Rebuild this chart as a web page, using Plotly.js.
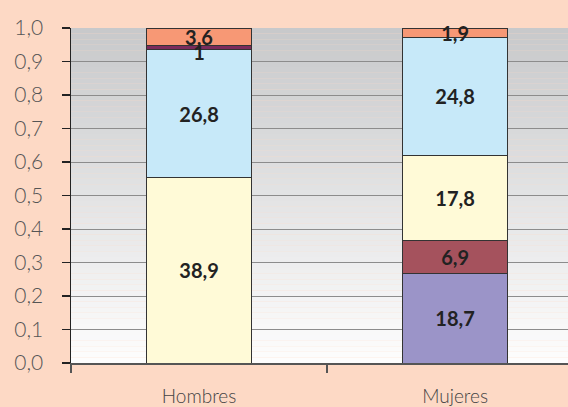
<!DOCTYPE html>
<html>
<head>
<meta charset="utf-8">
<script src="https://cdn.plot.ly/plotly-3.0.1.min.js"></script>
<style>html,body{margin:0;padding:0;background:#fdd9c5;}#chart{width:568px;height:407px;}</style>
</head>
<body>
<div id="chart"></div>
<script>
var categories = ['Hombres', 'Mujeres'];
var serieLavanda = [0, 18.7];
var serieGranate = [0, 6.9];
var serieAmarillo = [38.9, 17.8];
var serieAzul = [26.8, 24.8];
var seriePurpura = [1, 0];
var serieSalmon = [3.6, 1.9];
var yTicks = [0, 0.1, 0.2, 0.3, 0.4, 0.5, 0.6, 0.7, 0.8, 0.9, 1.0];

function lbl(arr) {
  return arr.map(function (v) { return v === 0 ? '' : String(v).replace('.', ','); });
}

var series = [
  {y: serieLavanda, color: '#9b94c8'},
  {y: serieGranate, color: '#a5525d'},
  {y: serieAmarillo, color: '#fffad7'},
  {y: serieAzul, color: '#c7e9f9'},
  {y: seriePurpura, color: '#7b2b5c', overlayText: true},
  {y: serieSalmon, color: '#f79875'}
];

var labelFont = {family: 'Lato, sans-serif', size: 20, color: '#222222', weight: 'bold'};

var traces = series.map(function (s) {
  return {
    type: 'bar',
    x: categories,
    y: s.y,
    text: s.overlayText ? categories.map(function () { return ''; }) : lbl(s.y),
    textposition: 'inside',
    insidetextanchor: 'middle',
    constraintext: 'none',
    cliponaxis: false,
    textfont: labelFont,
    marker: {color: s.color, line: {color: '#333333', width: 1}},
    width: 0.41,
    hoverinfo: 'none',
    showlegend: false
  };
});

// label of the thin segment, hung from the segment's top edge and drawn above every bar
var totals = categories.map(function (c, j) {
  return series.reduce(function (a, s) { return a + s.y[j]; }, 0);
});
series.forEach(function (s, k) {
  if (!s.overlayText) return;
  var tops = categories.map(function (c, j) {
    var upto = 0;
    for (var m = 0; m <= k; m++) upto += series[m].y[j];
    return upto / totals[j];
  });
  traces.push({
    type: 'scatter', mode: 'text', x: categories, y: tops,
    text: lbl(s.y), textposition: 'bottom center', textfont: labelFont,
    cliponaxis: false, hoverinfo: 'none', showlegend: false
  });
});

// background gradient of the plotting area (grey at top to white at bottom)
var shapes = [];
var n = 60;
var c0 = [200, 201, 203], c1 = [253, 253, 253];
for (var i = 0; i < n; i++) {
  var t = i / (n - 1);
  var c = c0.map(function (a, k) { return Math.round(a + (c1[k] - a) * t); });
  shapes.push({
    type: 'rect', layer: 'below', xref: 'paper', yref: 'paper',
    x0: 0, x1: 1, y1: 1 - i / n, y0: 1 - (i + 1) / n,
    line: {width: 0}, fillcolor: 'rgb(' + c.join(',') + ')'
  });
}

var layout = {
  width: 568, height: 407,
  margin: {l: 71, r: 0, t: 28, b: 44},
  paper_bgcolor: '#fdd9c5',
  plot_bgcolor: 'rgba(0,0,0,0)',
  barmode: 'stack',
  barnorm: 'fraction',
  separators: ',.',
  uniformtext: {mode: 'show', minsize: 20},
  shapes: shapes,
  xaxis: {
    range: [-0.5, 1.441],
    showline: true, linecolor: '#555555', linewidth: 1.5,
    ticks: 'outside', tickson: 'boundaries', ticklen: 8, tickcolor: '#555555', tickwidth: 1.5,
    showgrid: false, zeroline: false,
    tickfont: {family: 'Lato, sans-serif', size: 19, color: '#444444', weight: 300},
    ticklabelstandoff: 16
  },
  yaxis: {
    range: [0, 1],
    tickvals: yTicks,
    tickformat: '.1f',
    showline: true, linecolor: '#222222', linewidth: 1.5,
    ticks: 'outside', ticklen: 8, tickcolor: '#222222', tickwidth: 1.5,
    showgrid: true, gridcolor: '#8c8c8c', gridwidth: 1,
    zeroline: false,
    tickfont: {family: 'Lato, sans-serif', size: 21, color: '#555555', weight: 300},
    ticklabelstandoff: 14
  },
  font: {family: 'Lato, sans-serif'}
};

Plotly.newPlot('chart', traces, layout, {displayModeBar: false, staticPlot: true});
</script>
</body>
</html>
